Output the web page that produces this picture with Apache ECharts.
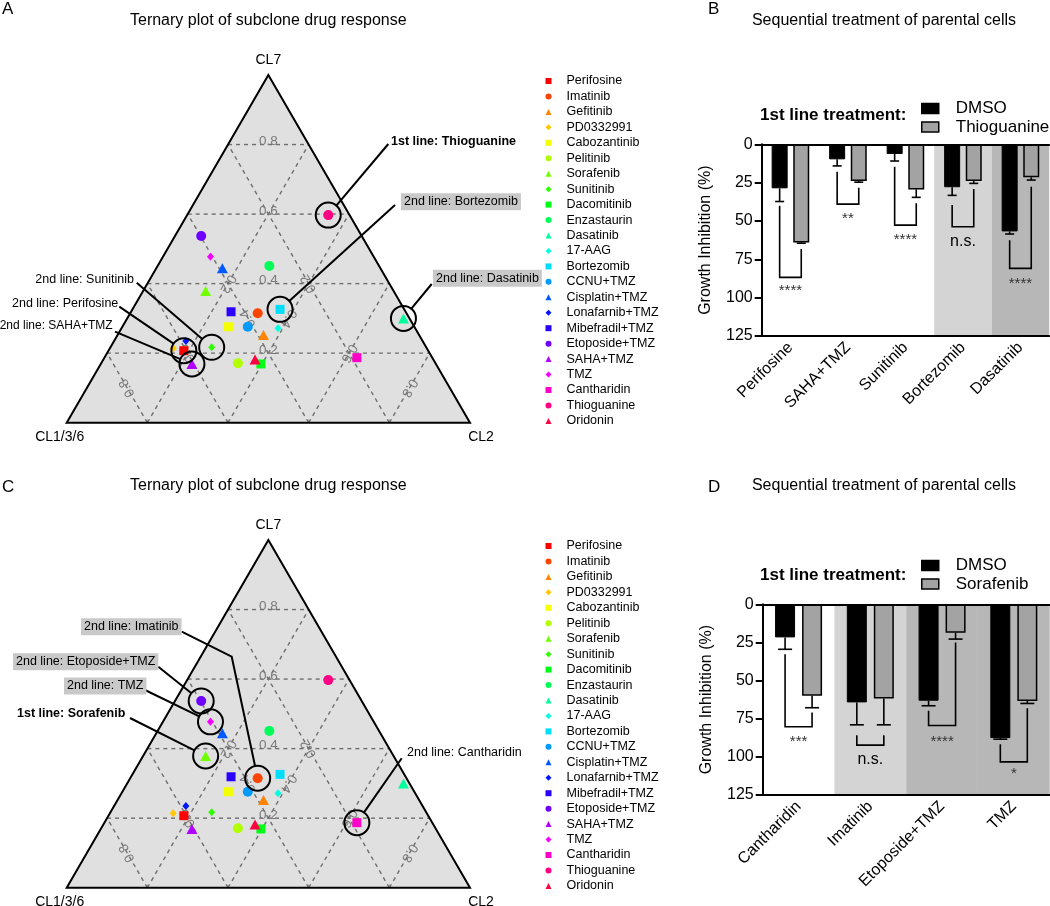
<!DOCTYPE html>
<html><head><meta charset="utf-8">
<script src="https://cdn.jsdelivr.net/npm/echarts@6/dist/echarts.min.js"></script>
<style>html,body{margin:0;padding:0;background:#fff}#main{width:1050px;height:906px}</style>
</head><body><div id="main"></div>
<script>
// ---------------- DATA ----------------
const drugs = ['Perifosine','Imatinib','Gefitinib','PD0332991','Cabozantinib','Pelitinib','Sorafenib','Sunitinib','Dacomitinib','Enzastaurin','Dasatinib','17-AAG','Bortezomib','CCNU+TMZ','Cisplatin+TMZ','Lonafarnib+TMZ','Mibefradil+TMZ','Etoposide+TMZ','SAHA+TMZ','TMZ','Cantharidin','Thioguanine','Oridonin'];
// ternary fractions per drug
const cl136 = [0.606,0.369,0.386,0.629,0.461,0.490,0.466,0.532,0.434,0.272,0.015,0.340,0.308,0.413,0.392,0.587,0.433,0.398,0.605,0.405,0.187,0.053,0.442];
const cl2   = [0.187,0.316,0.362,0.157,0.263,0.339,0.155,0.251,0.397,0.277,0.685,0.388,0.366,0.311,0.164,0.178,0.248,0.065,0.226,0.118,0.626,0.350,0.376];
const cl7   = [0.207,0.315,0.252,0.214,0.276,0.171,0.379,0.217,0.169,0.451,0.300,0.272,0.326,0.276,0.444,0.235,0.319,0.537,0.169,0.477,0.187,0.597,0.182];
const ternaryTicks = [0.2,0.4,0.6,0.8];
const vertexLabels = ['CL1/3/6','CL2','CL7'];

const annotatedA = ['Thioguanine','Bortezomib','Dasatinib','Sunitinib','Perifosine','SAHA+TMZ'];
const annotationTextA = ['1st line: Thioguanine','2nd line: Bortezomib','2nd line: Dasatinib','2nd line: Sunitinib','2nd line: Perifosine','2nd line: SAHA+TMZ'];
const annotatedC = ['Imatinib','Etoposide+TMZ','TMZ','Sorafenib','Cantharidin'];
const annotationTextC = ['2nd line: Imatinib','2nd line: Etoposide+TMZ','2nd line: TMZ','1st line: Sorafenib','2nd line: Cantharidin'];

const catsB = ['Perifosine','SAHA+TMZ','Sunitinib','Bortezomib','Dasatinib'];
const dmsoB = [28.7, 9.8, 6.3, 28.0, 56.8];
const dmsoErrB = [8.6, 4.3, 4.6, 5.3, 1.7];
const thioB = [64.0, 23.9, 29.4, 24.0, 21.5];
const thioErrB = [0.5, 0.8, 5.2, 1.5, 1.8];
const sigB = ['****','**','****','n.s.','****'];
const bracketLeftB = [40.0, 17.9, 14.6, 39.6, 62.5];
const bracketRightB = [68.3, 28.3, 38.5, 29.2, 27.7];
const bracketBottomB = [86.8, 39.0, 52.7, 53.8, 80.9];
const sigLevelB = [92.9, 46.0, 59.6, 63.5, 88.6];
const shadeB = [0,0,0,1,2];

const catsD = ['Cantharidin','Imatinib','Etoposide+TMZ','TMZ'];
const dmsoD = [21.7, 64.3, 63.2, 87.7];
const dmsoErrD = [7.8, 14.7, 3.3, 0.7];
const soraD = [60.0, 61.7, 18.6, 63.4];
const soraErrD = [7.8, 17.3, 4.2, 1.6];
const sigD = ['***','n.s.','****','*'];
const bracketLeftD = [32.8, 85.8, 69.8, 91.7];
const bracketRightD = [70.9, 85.8, 25.0, 68.2];
const bracketBottomD = [80.3, 92.3, 79.4, 103.3];
const sigLevelD = [87.3, 101.7, 87.3, 108.7];
const shadeD = [0,1,2,2];

// ---------------- STYLE / LAYOUT ----------------
const FONT = '"Liberation Sans", Arial, Helvetica, sans-serif';
const drugColors = ['#FF0000','#FF4300','#FF8500','#FFC800','#F4FF00','#B1FF00','#6FFF00','#2CFF00','#00FF16','#00FF59','#00FF9B','#00FFDE','#00DEFF','#009BFF','#0059FF','#0016FF','#2C00FF','#6F00FF','#B100FF','#F400FF','#FF00C8','#FF0085','#FF0043'];
const shapeCycle = ['rect','circle','triangle','diamond'];
const shapeSize = [9, 10, [11,10], [7,8]];
const bandColors = [null, '#d4d4d4', '#b7b7b7'];
const greyBar = '#a3a3a3';

const layoutA = [
  {tx:391, ty:141.7, align:'left', bold:true, box:false, size:12.5, path:[[388.3,144]]},
  {tx:401, ty:201.7, align:'left', bold:false, box:true, size:12.5, path:[[395,205]]},
  {tx:433, ty:278.3, align:'left', bold:false, box:true, size:12.5, path:[[431.7,284]]},
  {tx:134, ty:280, align:'right', bold:false, box:false, size:12.5, path:[[136.7,282.7]]},
  {tx:118.3, ty:303.3, align:'right', bold:false, box:false, size:12.5, path:[[119.3,306.7]]},
  {tx:112.7, ty:325.7, align:'right', bold:false, box:false, size:12, path:[[115,331.7]]}
];
const layoutC = [
  {tx:81, ty:626.7, align:'left', bold:false, box:true, size:12.5, path:[[181.7,631.7],[231.7,656.7]]},
  {tx:13, ty:661.7, align:'left', bold:false, box:true, size:12.5, path:[[158.3,666.7]]},
  {tx:64, ty:686, align:'left', bold:false, box:true, size:12.5, path:[[145,690]]},
  {tx:17, ty:714, align:'left', bold:true, box:false, size:12.5, path:[[130,718]]},
  {tx:407, ty:752.7, align:'left', bold:false, box:false, size:12.5, path:[[401.7,758.3]]}
];

function tern(a,b,c){ const s=a+b+c; return [(b + c/2)/s, c/s]; }

function frameRender(params, api){
  const P = (a,b,c) => api.coord(tern(a,b,c));
  const A=P(1,0,0), B=P(0,1,0), C=P(0,0,1);
  const ch = [];
  ch.push({type:'polygon', shape:{points:[A,B,C]}, style:{fill:'#e0e0e0', stroke:null}});
  const dash = {stroke:'#6e6e6e', lineWidth:1.4, lineDash:[4,4], fill:null};
  ternaryTicks.forEach(k=>{
    [[P(1-k,0,k),P(0,1-k,k)],[P(1-k,k,0),P(0,k,1-k)],[P(k,1-k,0),P(k,0,1-k)]].forEach(s=>{
      ch.push({type:'line', shape:{x1:s[0][0],y1:s[0][1],x2:s[1][0],y2:s[1][1]}, style:dash});
    });
    const t = P(1-k,k,0);
    ch.push({type:'line', shape:{x1:t[0],y1:t[1]-3,x2:t[0],y2:t[1]}, style:{stroke:'#888',lineWidth:1}});
  });
  const ls = (txt)=>({text:txt, fill:'#7a7a7a', font:'13.5px '+FONT, align:'center', verticalAlign:'middle', textAlign:'center', textVerticalAlign:'middle'});
  ternaryTicks.forEach(k=>{
    const lab = k.toFixed(1);
    const m1 = P((1-k)/2,(1-k)/2,k);
    const m2 = P((1-k)/2,k,(1-k)/2);
    const m3 = P(k,(1-k)/2,(1-k)/2);
    ch.push({type:'text', x:m1[0], y:m1[1]-3, style:ls(lab)});
    ch.push({type:'text', x:m2[0], y:m2[1], rotation:-2*Math.PI/3, style:ls(lab)});
    ch.push({type:'text', x:m3[0], y:m3[1], rotation:2*Math.PI/3, style:ls(lab)});
  });
  ch.push({type:'polygon', shape:{points:[A,B,C]}, style:{fill:null, stroke:'#000', lineWidth:2}});
  const vs = (txt, al)=>({text:txt, fill:'#000', font:'14px '+FONT, align:al, verticalAlign:'middle', textAlign:al, textVerticalAlign:'middle'});
  ch.push({type:'text', x:A[0]-7, y:A[1]+14, style:vs(vertexLabels[0],'center')});
  ch.push({type:'text', x:B[0]+11, y:B[1]+14, style:vs(vertexLabels[1],'center')});
  ch.push({type:'text', x:C[0], y:C[1]-15, style:vs(vertexLabels[2],'center')});
  return {type:'group', children:ch};
}

function annotRender(layout, texts){
  return function(params, api){
    const p = api.coord([api.value(0), api.value(1)]);
    const L = layout[params.dataIndex];
    const r = 12.5;
    const last = L.path[L.path.length-1];
    const dx=p[0]-last[0], dy=p[1]-last[1], d=Math.hypot(dx,dy);
    const end=[p[0]-dx/d*r, p[1]-dy/d*r];
    const pts = L.path.concat([end]);
    const st = {text:texts[params.dataIndex], fill:'#000', font:(L.bold?'bold ':'')+L.size+'px '+FONT,
      align:L.align, verticalAlign:'middle', textAlign:L.align, textVerticalAlign:'middle'};
    if (L.box){ st.backgroundColor='#c9c9c9'; st.padding=[2,3,2,3]; }
    return {type:'group', children:[
      {type:'circle', shape:{cx:p[0], cy:p[1], r:r}, style:{fill:null, stroke:'#000', lineWidth:2}},
      {type:'polyline', shape:{points:pts}, style:{fill:null, stroke:'#000', lineWidth:2}},
      {type:'text', x:L.tx, y:L.ty, style:st}
    ]};
  };
}

function bandRender(params, api){
  const lvl = api.value(1);
  if (!lvl) return null;
  const cat = api.value(0);
  const cx = api.coord([cat,0])[0];
  const w = api.size([1,0])[0];
  const y0 = api.coord([cat,0])[1], y1 = api.coord([cat,125])[1];
  return {type:'rect', shape:{x:cx-w/2, y:Math.min(y0,y1), width:w, height:Math.abs(y1-y0)}, style:{fill:bandColors[lvl]}};
}

function errRender(bw, gap, cap){
  return function(params, api){
    const cat = api.value(0), off = (bw + gap*bw)/2;
    const cx = api.coord([cat,0])[0];
    const ch = [];
    [[-off, api.value(1), api.value(2)],[off, api.value(3), api.value(4)]].forEach(([o,m,e])=>{
      const x = cx+o, y1 = api.coord([cat,m])[1], y2 = api.coord([cat,m+e])[1];
      ch.push({type:'line', shape:{x1:x,y1:y1,x2:x,y2:y2}, style:{stroke:'#000',lineWidth:1.6}});
      ch.push({type:'line', shape:{x1:x-cap/2,y1:y2,x2:x+cap/2,y2:y2}, style:{stroke:'#000',lineWidth:1.6}});
    });
    return {type:'group', children:ch};
  };
}

function bracketRender(bw, gap, sig){
  return function(params, api){
    const cat = api.value(0), off = (bw + gap*bw)/2;
    const cx = api.coord([cat,0])[0];
    const Y = v => api.coord([cat,v])[1];
    const xl = cx-off, xr = cx+off, yb = Y(api.value(3));
    const txt = sig[params.dataIndex];
    const star = txt.indexOf('*')>=0;
    return {type:'group', children:[
      {type:'polyline', shape:{points:[[xl,Y(api.value(1))],[xl,yb],[xr,yb],[xr,Y(api.value(2))]]}, style:{fill:null, stroke:'#000', lineWidth:1.6}},
      {type:'text', x:cx, y:Y(api.value(4)) + (star?4:0), style:{text:txt, fill:star?'#333':'#000', font:(star?'15px ':'16px ')+FONT, align:'center', verticalAlign:'middle', textAlign:'center', textVerticalAlign:'middle'}}
    ]};
  };
}

// ---------------- OPTION ----------------
const grids = [
  {left:66.7, top:75, width:403.3, height:347.7},
  {left:66.7, top:540, width:403.3, height:347.7},
  {left:761.7, top:144.3, width:287.5, height:191.7},
  {left:762.7, top:604.3, width:287, height:190.7}
];
const hiddenAxis = gi => ({gridIndex:gi, type:'value', min:0, max:1, show:false});
const barX = (gi, cats) => ({gridIndex:gi, type:'category', data:cats, position:'bottom', z:10,
  axisLine:{onZero:false, lineStyle:{color:'#000', width:2}},
  axisTick:{alignWithLabel:true, length:7, lineStyle:{color:'#000', width:2}},
  axisLabel:{rotate:45, fontSize:16, color:'#000', margin:9, fontFamily:FONT}, splitLine:{show:false}});
const barTop = (gi, cats) => ({gridIndex:gi, type:'category', data:cats, position:'top', z:10,
  axisLine:{onZero:false, lineStyle:{color:'#000', width:2}}, axisTick:{show:false}, axisLabel:{show:false}});
const barY = gi => ({gridIndex:gi, type:'value', min:0, max:125, interval:25, inverse:true, z:10,
  name:'Growth Inhibition (%)', nameLocation:'middle', nameGap:48, nameRotate:90,
  nameTextStyle:{fontSize:16, color:'#000', fontFamily:FONT},
  axisLine:{show:true, lineStyle:{color:'#000', width:2}},
  axisTick:{show:true, length:7, lineStyle:{color:'#000', width:2}},
  axisLabel:{fontSize:16, color:'#000', margin:9, fontFamily:FONT}, splitLine:{show:false}});

const series = [];
[0,1].forEach(gi=>{
  series.push({type:'custom', xAxisIndex:gi, yAxisIndex:gi, z:1, silent:true, data:[[0,0]], renderItem:frameRender});
  drugs.forEach((d,i)=>{
    series.push({type:'scatter', name:d, xAxisIndex:gi, yAxisIndex:gi, z:3, silent:true,
      symbol:shapeCycle[i%4], symbolSize:shapeSize[i%4],
      itemStyle:{color:drugColors[i], opacity:1},
      data:[tern(cl136[i], cl2[i], cl7[i])]});
  });
});
const annData = names => names.map(n=>{ const i = drugs.indexOf(n); return tern(cl136[i], cl2[i], cl7[i]); });
series.push({type:'custom', xAxisIndex:0, yAxisIndex:0, z:6, silent:true, data:annData(annotatedA), renderItem:annotRender(layoutA, annotationTextA)});
series.push({type:'custom', xAxisIndex:1, yAxisIndex:1, z:6, silent:true, data:annData(annotatedC), renderItem:annotRender(layoutC, annotationTextC)});

// bar panel B
series.push({type:'custom', xAxisIndex:2, yAxisIndex:2, z:0, silent:true, data:shadeB.map((s,i)=>[i,s]), renderItem:bandRender});
series.push({type:'bar', name:'DMSO', xAxisIndex:2, yAxisIndex:2, z:3, data:dmsoB, barWidth:16, barGap:'35%', itemStyle:{color:'#000', borderColor:'#000', borderWidth:1}});
series.push({type:'bar', name:'Thioguanine ', xAxisIndex:2, yAxisIndex:2, z:3, data:thioB, barWidth:16, barGap:'35%', itemStyle:{color:greyBar, borderColor:'#000', borderWidth:1.5}});
series.push({type:'custom', xAxisIndex:2, yAxisIndex:2, z:4, silent:true, data:catsB.map((c,i)=>[i, dmsoB[i], dmsoErrB[i], thioB[i], thioErrB[i]]), renderItem:errRender(16,0.35,9)});
series.push({type:'custom', xAxisIndex:2, yAxisIndex:2, z:4, silent:true, data:catsB.map((c,i)=>[i, bracketLeftB[i], bracketRightB[i], bracketBottomB[i], sigLevelB[i]]), renderItem:bracketRender(16,0.35,sigB)});

// bar panel D
series.push({type:'custom', xAxisIndex:3, yAxisIndex:3, z:0, silent:true, data:shadeD.map((s,i)=>[i,s]), renderItem:bandRender});
series.push({type:'bar', name:'DMSO', xAxisIndex:3, yAxisIndex:3, z:3, data:dmsoD, barWidth:20, barGap:'35%', itemStyle:{color:'#000', borderColor:'#000', borderWidth:1}});
series.push({type:'bar', name:'Sorafenib ', xAxisIndex:3, yAxisIndex:3, z:3, data:soraD, barWidth:20, barGap:'35%', itemStyle:{color:greyBar, borderColor:'#000', borderWidth:1.5}});
series.push({type:'custom', xAxisIndex:3, yAxisIndex:3, z:4, silent:true, data:catsD.map((c,i)=>[i, dmsoD[i], dmsoErrD[i], soraD[i], soraErrD[i]]), renderItem:errRender(20,0.35,14)});
series.push({type:'custom', xAxisIndex:3, yAxisIndex:3, z:4, silent:true, data:catsD.map((c,i)=>[i, bracketLeftD[i], bracketRightD[i], bracketBottomD[i], sigLevelD[i]]), renderItem:bracketRender(20,0.35,sigD)});

const drugLegend = top => ({orient:'vertical', left:540.5, top:top, itemWidth:6, itemHeight:6, itemGap:1.45, selectedMode:false,
  data:drugs, textStyle:{fontSize:12.5, lineHeight:14, color:'#000', fontFamily:FONT, padding:[0,0,0,10]}});
const barLegend = (top, names) => ({orient:'vertical', left:916, top:top, itemWidth:17, itemHeight:10, itemGap:1.4, selectedMode:false,
  data:[{name:names[0], icon:'rect', itemStyle:{color:'#000', borderColor:'#000', borderWidth:1.5}},
        {name:names[1], icon:'rect', itemStyle:{color:greyBar, borderColor:'#000', borderWidth:1.5}}],
  formatter: n => n.trim(),
  textStyle:{fontSize:17, lineHeight:17, color:'#000', fontFamily:FONT, padding:[0,0,0,12]}});

const T = (x,y,text,size,opt) => Object.assign({type:'text', x:x, y:y, style:Object.assign({text:text, fill:'#000', font:size+'px '+FONT, align:'left', verticalAlign:'middle', textAlign:'left', textVerticalAlign:'middle'}, opt||{})});
const graphic = [
  T(2, 9, 'A', 17),
  T(268.3, 20.7, 'Ternary plot of subclone drug response', 16, {align:'center', textAlign:'center'}),
  T(2, 487, 'C', 17),
  T(268.3, 486, 'Ternary plot of subclone drug response', 16, {align:'center', textAlign:'center'}),
  T(708, 9, 'B', 17),
  T(884, 20.7, 'Sequential treatment of parental cells', 16, {align:'center', textAlign:'center'}),
  T(708, 487, 'D', 17),
  T(884, 486, 'Sequential treatment of parental cells', 16, {align:'center', textAlign:'center'}),
  T(760, 115, '1st line treatment:', 17, {font:'bold 17px '+FONT}),
  T(760, 575.7, '1st line treatment:', 17, {font:'bold 17px '+FONT})
];

const option = {
  animation:false,
  backgroundColor:'#fff',
  textStyle:{fontFamily:FONT},
  grid:grids,
  xAxis:[hiddenAxis(0), hiddenAxis(1), barX(2,catsB), barX(3,catsD), barTop(2,catsB), barTop(3,catsD)],
  yAxis:[hiddenAxis(0), hiddenAxis(1), barY(2), barY(3)],
  legend:[drugLegend(69), drugLegend(534), barLegend(95,['DMSO','Thioguanine ']), barLegend(552,['DMSO','Sorafenib '])],
  graphic:graphic,
  series:series
};
const chart = echarts.init(document.getElementById('main'));
chart.setOption(option);
</script>
</body></html>
